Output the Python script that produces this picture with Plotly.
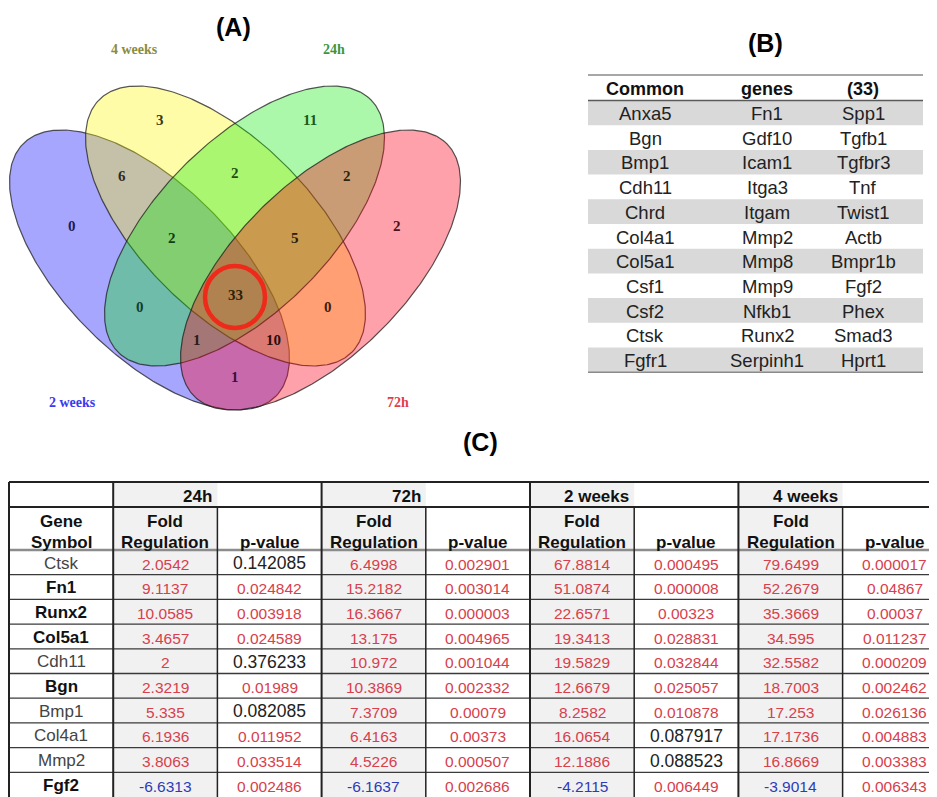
import numpy as np
import plotly.graph_objects as go

# ---------------- DATA ----------------
# Venn (A): A = 2 weeks, B = 4 weeks, C = 24h, D = 72h
set_keys = ["A", "B", "C", "D"]
set_names = ["2 weeks", "4 weeks", "24h", "72h"]
region_keys = ["A", "B", "C", "D", "AB", "AC", "AD", "BC", "BD", "CD",
               "ABC", "ABD", "ACD", "BCD", "ABCD"]
region_counts = [0, 3, 11, 2, 6, 0, 1, 2, 0, 2, 2, 10, 1, 5, 33]
highlight_region = "ABCD"

# Table (B)
common_header = ["Common", "genes", "(33)"]
common_col1 = ["Anxa5", "Bgn", "Bmp1", "Cdh11", "Chrd", "Col4a1", "Col5a1", "Csf1", "Csf2", "Ctsk", "Fgfr1"]
common_col2 = ["Fn1", "Gdf10", "Icam1", "Itga3", "Itgam", "Mmp2", "Mmp8", "Mmp9", "Nfkb1", "Runx2", "Serpinh1"]
common_col3 = ["Spp1", "Tgfb1", "Tgfbr3", "Tnf", "Twist1", "Actb", "Bmpr1b", "Fgf2", "Phex", "Smad3", "Hprt1"]

# Table (C)
timepoints = ["24h", "72h", "2 weeks", "4 weeks"]
genes = ["Ctsk", "Fn1", "Runx2", "Col5a1", "Cdh11", "Bgn", "Bmp1", "Col4a1", "Mmp2", "Fgf2"]
gene_emphasis = [False, True, True, True, False, True, False, False, False, True]
fold_24h = [2.0542, 9.1137, 10.0585, 3.4657, 2, 2.3219, 5.335, 6.1936, 3.8063, -6.6313]
p_24h = [0.142085, 0.024842, 0.003918, 0.024589, 0.376233, 0.01989, 0.082085, 0.011952, 0.033514, 0.002486]
fold_72h = [6.4998, 15.2182, 16.3667, 13.175, 10.972, 10.3869, 7.3709, 6.4163, 4.5226, -6.1637]
p_72h = [0.002901, 0.003014, 0.000003, 0.004965, 0.001044, 0.002332, 0.00079, 0.00373, 0.000507, 0.002686]
fold_2w = [67.8814, 51.0874, 22.6571, 19.3413, 19.5829, 12.6679, 8.2582, 16.0654, 12.1886, -4.2115]
p_2w = [0.000495, 0.000008, 0.00323, 0.028831, 0.032844, 0.025057, 0.010878, 0.087917, 0.088523, 0.006449]
fold_4w = [79.6499, 52.2679, 35.3669, 34.595, 32.5582, 18.7003, 17.253, 17.1736, 16.8669, -3.9014]
p_4w = [0.000017, 0.04867, 0.00037, 0.011237, 0.000209, 0.002462, 0.026136, 0.004883, 0.003383, 0.006343]
fold_series = [fold_24h, fold_72h, fold_2w, fold_4w]
p_series = [p_24h, p_72h, p_2w, p_4w]

# ---------------- LAYOUT / STYLE ----------------
W, H = 937, 797          # page area photographed
PAD = 8                  # default body margin of the html page
SANS = "Liberation Sans, Arial, sans-serif"
SERIF = "Liberation Serif, Times New Roman, serif"
RED = "#d7404c"
BLUE = "#2c3cb8"

ell_a, ell_b = 178.6, 85.4
ell_geom = {"A": (149.5, 270, 1), "B": (225.5, 226, 1), "C": (244.5, 226, -1), "D": (320.5, 270, -1)}
ell_fill = {"A": "rgba(20,20,255,0.38)", "B": "rgba(255,245,0,0.34)",
            "C": "rgba(0,235,0,0.33)", "D": "rgba(255,0,25,0.37)"}
label_pos = {"A": (72, 402), "B": (134, 49), "C": (334, 49), "D": (398, 402)}
label_col = {"A": "#3a3af0", "B": "#8c8c3c", "C": "#3c963c", "D": "#e0404a"}
region_pos = {"B": (160, 120), "C": (310, 120), "AB": (122, 176), "BC": (235, 173),
              "CD": (347, 176), "A": (72, 226), "ABC": (172, 238), "BCD": (295, 238),
              "D": (397, 226), "ABCD": (235, 295), "AC": (140, 307), "BD": (328, 307),
              "ACD": (197, 340), "ABD": (273, 340), "AD": (235, 377)}
region_col = {"A": "#1c1c5a", "B": "#3a3a10", "C": "#1a5a1a", "D": "#4a1020",
              "AB": "#2e2e26", "AC": "#104030", "AD": "#3a0f3a", "BC": "#1f4f10",
              "BD": "#402008", "CD": "#2e2410", "ABC": "#103e10", "ABD": "#2e0c0c",
              "ACD": "#2a1a1a", "BCD": "#2a2008", "ABCD": "#2a2208"}

fig = go.Figure()
annotations = []
shapes = []


def ann(x, y, text, size, color="#000", family=SANS, bold=False, xanchor="center"):
    t = "<b>%s</b>" % text if bold else text
    annotations.append(dict(x=x, y=y, xref="x", yref="y", text=t, showarrow=False,
                            xanchor=xanchor, yanchor="middle",
                            font=dict(size=size, color=color, family=family)))


# ----- Venn ellipses -----
t = np.linspace(0, 2 * np.pi, 361)
for k in set_keys:
    cx, cy, s = ell_geom[k]
    ux, uy = 1 / np.sqrt(2), s / np.sqrt(2)
    vx, vy = -s / np.sqrt(2), 1 / np.sqrt(2)
    xs = cx + ell_a * np.cos(t) * ux + ell_b * np.sin(t) * vx
    ys = cy + ell_a * np.cos(t) * uy + ell_b * np.sin(t) * vy
    fig.add_trace(go.Scatter(x=xs, y=ys, mode="lines", fill="toself",
                             fillcolor=ell_fill[k],
                             line=dict(color="rgba(30,30,30,0.75)", width=1.2),
                             hoverinfo="skip", showlegend=False))

for k, name in zip(set_keys, set_names):
    x, y = label_pos[k]
    ann(x, y, name, 14, label_col[k], SERIF, bold=True)

for k, c in zip(region_keys, region_counts):
    x, y = region_pos[k]
    ann(x, y, str(c), 15, region_col[k], SERIF, bold=True)

hx, hy = region_pos[highlight_region]
shapes.append(dict(type="circle", xref="x", yref="y", x0=hx - 30, x1=hx + 30,
                   y0=hy + 2 - 31, y1=hy + 2 + 31, line=dict(color="#ee2a1a", width=4.5),
                   layer="above"))

# ----- Panel titles -----
ann(233, 27, "(A)", 25, bold=True)
ann(765, 43, "(B)", 25, bold=True)
ann(480, 442, "(C)", 25, bold=True)

# ----- Table (B) -----
bx0, bx1 = 588, 923
b_top, b_head = 75, 25.5
b_row = 24.7
b_cols = [645, 767, 863]
nb = len(common_col1)
for i in range(nb):
    if i % 2 == 0:
        y0 = b_top + b_head + i * b_row
        shapes.append(dict(type="rect", xref="x", yref="y", x0=bx0, x1=bx1, y0=y0, y1=y0 + b_row,
                           fillcolor="#d9d9d9", line=dict(width=0), layer="below"))
for yy, col in [(b_top, "#8a8a8a"), (b_top + b_head, "#5a5a5a"), (b_top + b_head + nb * b_row, "#8a8a8a")]:
    shapes.append(dict(type="line", xref="x", yref="y", x0=bx0, x1=bx1, y0=yy, y1=yy,
                       line=dict(color=col, width=1.6)))
for j, h in enumerate(common_header):
    ann(b_cols[j], b_top + 14, h, 18, "#111", bold=True)
for j, col in enumerate([common_col1, common_col2, common_col3]):
    for i, g in enumerate(col):
        ann(b_cols[j], b_top + b_head + i * b_row + 13, g, 18.5, "#222")

# ----- Table (C) -----
cx0, cw = 9, 104.2
edges = [cx0 + k * cw for k in range(10)]
c_top, h1, h2, rh = 482, 25, 43, 24.7
d_top = c_top + h1 + h2
bottom = H + 30

for g in range(4):
    k = 1 + 2 * g
    shapes.append(dict(type="rect", xref="x", yref="y", x0=edges[k], x1=edges[k + 1],
                       y0=c_top, y1=bottom, fillcolor="#f1f1f1", line=dict(width=0), layer="below"))

shapes.append(dict(type="line", xref="x", yref="y", x0=edges[0], x1=W + 20, y0=c_top, y1=c_top,
                   line=dict(color="#222", width=2)))
shapes.append(dict(type="line", xref="x", yref="y", x0=edges[0], x1=W + 20, y0=c_top + h1, y1=c_top + h1,
                   line=dict(color="#222", width=2)))
shapes.append(dict(type="line", xref="x", yref="y", x0=edges[0], x1=W + 20, y0=d_top, y1=d_top,
                   line=dict(color="#8c8c8c", width=2.5)))
for i in range(1, len(genes)):
    yy = d_top + i * rh
    shapes.append(dict(type="line", xref="x", yref="y", x0=edges[0], x1=W + 20, y0=yy, y1=yy,
                       line=dict(color="#3a3a3a", width=1.3)))
for k in range(10):
    y0 = c_top if (k == 0 or k % 2 == 1) else c_top + h1
    shapes.append(dict(type="line", xref="x", yref="y", x0=edges[k], x1=edges[k], y0=y0, y1=bottom,
                       line=dict(color="#222", width=2 if (k == 0 or k % 2 == 1) else 1.5)))

for g, tp in enumerate(timepoints):
    ann(edges[2 + 2 * g] - 3, c_top + h1 / 2 + 2, tp, 17, "#111", bold=True, xanchor="right")
hy1, hy2 = c_top + h1 + 14, c_top + h1 + 35
ann((edges[0] + edges[1]) / 2, hy1, "Gene", 17, "#111", bold=True)
ann((edges[0] + edges[1]) / 2, hy2, "Symbol", 17, "#111", bold=True)
for g in range(4):
    k = 1 + 2 * g
    ann((edges[k] + edges[k + 1]) / 2, hy1, "Fold", 17, "#111", bold=True)
    ann((edges[k] + edges[k + 1]) / 2, hy2, "Regulation", 17, "#111", bold=True)
    ann((edges[k + 1] + edges[k + 2]) / 2, hy2, "p-value", 17, "#111", bold=True)


def fmt(v, nd):
    s = ("%." + str(nd) + "f") % v
    s = s.rstrip("0").rstrip(".")
    return s


for i, gname in enumerate(genes):
    yc = d_top + i * rh + 13
    if gene_emphasis[i]:
        ann((edges[0] + edges[1]) / 2, yc, gname, 17, "#111", bold=True)
    else:
        ann((edges[0] + edges[1]) / 2, yc, gname, 17, "#444")
    for g in range(4):
        k = 1 + 2 * g
        fv = fold_series[g][i]
        pv = p_series[g][i]
        ann((edges[k] + edges[k + 1]) / 2, yc + 1, fmt(fv, 4), 15.5, RED if fv > 0 else BLUE)
        if pv < 0.05:
            ann((edges[k + 1] + edges[k + 2]) / 2, yc + 1, fmt(pv, 6), 15.5, RED)
        else:
            ann((edges[k + 1] + edges[k + 2]) / 2, yc, fmt(pv, 6), 17.5, "#222")

# The figure sits at page offset PAD; axis ranges are chosen so that data units equal page pixels.
fig.update_layout(
    width=W - PAD, height=H - PAD, margin=dict(l=0, r=0, t=0, b=0),
    paper_bgcolor="white", plot_bgcolor="white",
    xaxis=dict(range=[PAD, W], visible=False, fixedrange=True),
    yaxis=dict(range=[H, PAD], visible=False, fixedrange=True),
    annotations=annotations, shapes=shapes, showlegend=False,
)
fig.write_html("out.html")
